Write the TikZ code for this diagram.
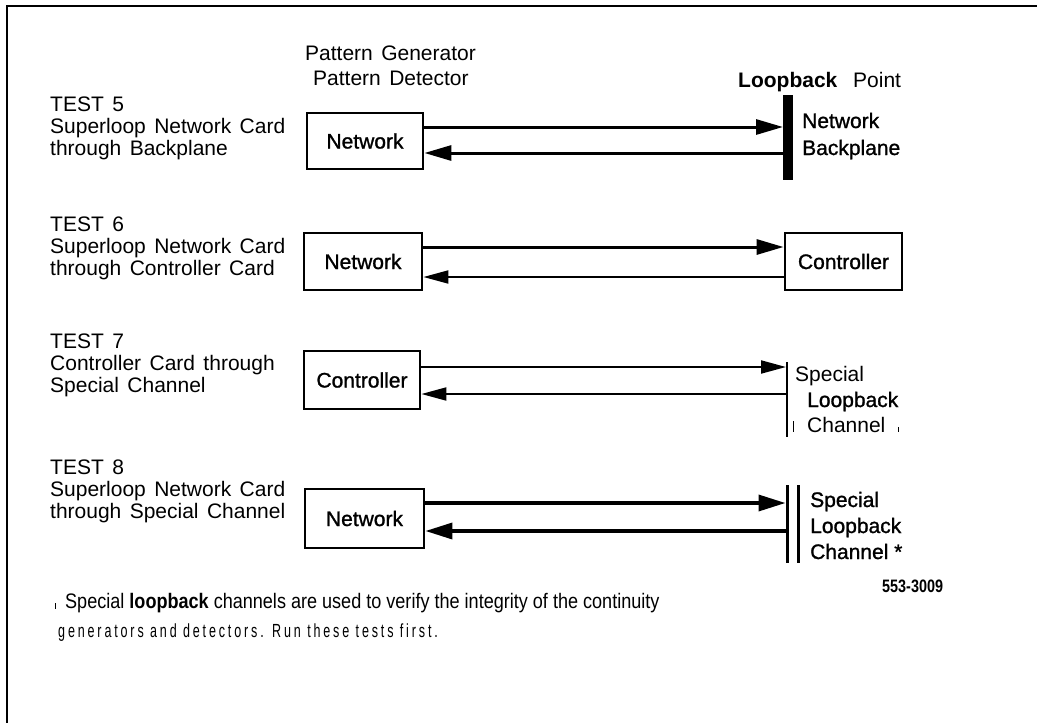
\documentclass[tikz,border=0pt]{standalone}
\usepackage{fontspec}
\setmainfont{Liberation Sans}
\newfontfamily\semib[FakeBold=1.2]{Liberation Sans}
\newfontfamily\narrowA[FakeStretch=0.86]{Liberation Sans}
\newfontfamily\narrowC[FakeStretch=0.8]{Liberation Sans}
\newfontfamily\narrowB[FakeStretch=0.66,LetterSpace=15]{Liberation Sans}
\usetikzlibrary{arrows.meta}
\newcommand\wg{\hspace{0.4em}}
\begin{document}
\begin{tikzpicture}[x=1pt,y=-1pt,
  txt/.style={anchor=base west, inner sep=0pt, font=\fontsize{21}{25}\selectfont},
  semitxt/.style={anchor=base west, inner sep=0pt, font=\fontsize{21}{25}\semib},
  boldtxt/.style={anchor=base west, inner sep=0pt, font=\fontsize{21}{25}\selectfont\bfseries},
  box/.style={draw, line width=2.8pt, inner sep=0pt, font=\fontsize{21}{25}\semib},
  vbar/.style={fill=black, inner sep=0pt, outer sep=0pt, draw=none},
  fwd/.style={line width=3pt, -{Triangle[length=27pt,width=15pt]}},
  thin/.style={line width=2pt, -{Triangle[length=25pt,width=13pt]}},
  thick/.style={line width=3.5pt, -{Triangle[length=27pt,width=16pt]}},
  tick/.style={line width=1pt}
]
\useasboundingbox (0,0) rectangle (1037,723);
% frame
\draw[line width=2.5pt] (7,723) -- (7,6) -- (1037,6);

% header
\node[txt] (pg) at (305,60) {Pattern\wg Generator};
\node[txt] (pd) at (313,85) {Pattern\wg Detector};
\node[boldtxt] (lp) at (738,87) {Loopback};
\node[txt] (pt) at (853,87) {Point};

% TEST 5
\node[txt] (t5a) at (50,111) {TEST\wg 5};
\node[txt] (t5b) at (50,133) {Superloop\wg Network\wg Card};
\node[txt] (t5c) at (50,155) {through\wg Backplane};
\node[box, minimum width=116pt, minimum height=56pt] (n5) at (365,141) {Network};
\node[vbar, minimum width=10pt, minimum height=85pt] (bar5) at (788,137.5) {};
\draw[fwd] ([yshift=14pt]n5.east) -- ([yshift=14pt]n5.east -| bar5.west);
\draw[fwd] ([yshift=-12pt]n5.east -| bar5.west) -- ([yshift=-12pt]n5.east);
\node[semitxt] (r5a) at (802,128) {Network};
\node[semitxt] (r5b) at (802,155) {Backplane};

% TEST 6
\node[txt] (t6a) at (50,231) {TEST\wg 6};
\node[txt] (t6b) at (50,253) {Superloop\wg Network\wg Card};
\node[txt] (t6c) at (50,275) {through\wg Controller\wg Card};
\node[box, minimum width=118pt, minimum height=57pt] (n6) at (363,261.5) {Network};
\node[box, minimum width=117pt, minimum height=57pt] (c6) at (843.5,261.5) {Controller};
\draw[fwd] ([yshift=14.5pt]n6.east) -- ([yshift=14.5pt]n6.east -| c6.west);
\draw[thin] ([yshift=-15.5pt]n6.east -| c6.west) -- ([yshift=-15.5pt]n6.east);

% TEST 7
\node[txt] (t7a) at (50,348) {TEST\wg 7};
\node[txt] (t7b) at (50,370) {Controller\wg Card\wg through};
\node[txt] (t7c) at (50,392) {Special\wg Channel};
\node[box, minimum width=116pt, minimum height=58pt] (c7) at (362,380) {Controller};
\node[vbar, minimum width=2pt, minimum height=75pt] (ch7) at (787,399.5) {};
\draw[thin] ([yshift=13pt]c7.east) -- ([yshift=13pt]c7.east -| ch7.west);
\draw[thin] ([yshift=-14pt]c7.east -| ch7.west) -- ([yshift=-14pt]c7.east);
\node[txt] (r7a) at (795,381) {Special};
\node[semitxt] (r7b) at (807,407) {Loopback};
\node[txt] (r7c) at (807,432) {Channel};
\draw[tick] (793,421) -- (793,432);
\draw[tick] (898,427) -- (898,432);

% TEST 8
\node[txt] (t8a) at (50,474) {TEST\wg 8};
\node[txt] (t8b) at (50,496) {Superloop\wg Network\wg Card};
\node[txt] (t8c) at (50,518) {through\wg Special\wg Channel};
\node[box, minimum width=119pt, minimum height=59pt] (n8) at (364.5,518.5) {Network};
\node[vbar, minimum width=3pt, minimum height=78pt] (ch8a) at (787,524) {};
\node[vbar, minimum width=3pt, minimum height=78pt] (ch8b) at (798,524) {};
\draw[thick] ([yshift=15.5pt]n8.east) -- ([yshift=15.5pt]n8.east -| ch8a.west);
\draw[thick] ([yshift=-12.5pt]n8.east -| ch8a.west) -- ([yshift=-12.5pt]n8.east);
\node[semitxt] (r8a) at (810,507) {Special};
\node[semitxt] (r8b) at (810,533) {Loopback};
\node[semitxt] (r8c) at (810,559) {Channel *};

% footnote
\draw[tick] (55,603) -- (55,609);
\node[anchor=base west, inner sep=0pt, font=\fontsize{21}{25}\narrowA] (fn1) at (65,608) {Special \textbf{loopback} channels are used to verify the integrity of the continuity};
\node[anchor=base west, inner sep=0pt, font=\fontsize{19}{23}\narrowB] (fn2) at (58,637) {generators and detectors. Run these tests first.};
\node[anchor=base west, inner sep=0pt, font=\fontsize{18}{20}\narrowC\bfseries] (code) at (882,592) {553-3009};
\end{tikzpicture}
\end{document}
